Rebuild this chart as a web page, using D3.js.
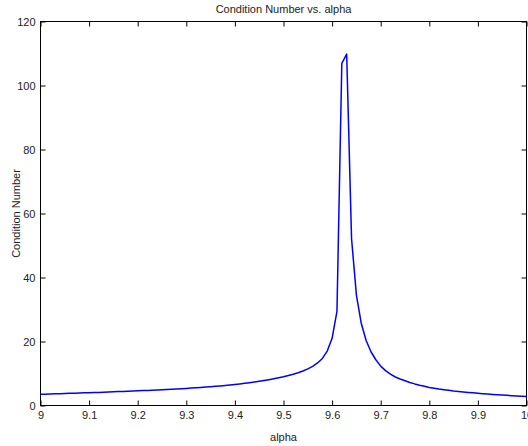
<!DOCTYPE html>
<html>
<head>
<meta charset="utf-8">
<script src="https://cdn.jsdelivr.net/npm/d3@7"></script>
<style>
  body { margin: 0; background: #fff; }
  svg { display: block; font-family: "Liberation Sans", Arial, sans-serif; }
</style>
</head>
<body>
<svg width="528" height="446"></svg>
<script>
// alpha values, 9.00 to 10.00 in steps of 0.01
const alphaValues = d3.range(0, 101).map(i => +(9 + i / 100).toFixed(2));

// condition number, one per alpha
const condValues = [
    3.50, 3.55, 3.60, 3.65, 3.70, 3.75, 3.80, 3.85, 3.90, 3.95,
    4.00, 4.05, 4.10, 4.16, 4.22, 4.28, 4.34, 4.40, 4.46, 4.52,
    4.58, 4.65, 4.72, 4.79, 4.86, 4.93, 5.01, 5.09, 5.17, 5.26,
    5.35, 5.45, 5.55, 5.65, 5.76, 5.88, 6.00, 6.13, 6.27, 6.42,
    6.58, 6.75, 6.93, 7.12, 7.33, 7.55, 7.79, 8.05, 8.33, 8.64,
    8.98, 9.36, 9.78, 10.25, 10.80, 11.45, 12.25, 13.30, 14.70, 17.00,
    21.0, 29.4, 106.9, 109.8, 52.2, 34.5, 25.7, 20.3, 16.8, 14.3,
    12.3, 10.9, 9.8, 8.9, 8.3, 7.75, 7.2, 6.75, 6.35, 6.0,
    5.65, 5.4, 5.15, 4.95, 4.75, 4.55, 4.4, 4.25, 4.1, 3.95,
    3.82, 3.7, 3.58, 3.47, 3.37, 3.27, 3.17, 3.08, 2.99, 2.9,
    2.8
];

const xTicks = [9, 9.1, 9.2, 9.3, 9.4, 9.5, 9.6, 9.7, 9.8, 9.9, 10];
const yTicks = [0, 20, 40, 60, 80, 100, 120];

const svg = d3.select("svg");
const plotLeft = 40.5, plotRight = 526.5, plotTop = 21.5, plotBottom = 405.5;

const x = d3.scaleLinear().domain([9, 10]).range([plotLeft, plotRight]);
const y = d3.scaleLinear().domain([0, 120]).range([plotBottom, plotTop]);

// box
svg.append("rect")
    .attr("x", plotLeft).attr("y", plotTop)
    .attr("width", plotRight - plotLeft).attr("height", plotBottom - plotTop)
    .attr("fill", "none").attr("stroke", "#000").attr("stroke-width", 1);

// inward ticks on all four sides, labels only bottom/left
const fmt = d => String(d);
svg.append("g").attr("transform", `translate(0,${plotBottom})`)
    .call(d3.axisBottom(x).tickValues(xTicks).tickSizeInner(-5).tickSizeOuter(0).tickPadding(6).tickFormat(fmt));
svg.append("g").attr("transform", `translate(0,${plotTop})`)
    .call(d3.axisTop(x).tickValues(xTicks).tickSizeInner(-5).tickSizeOuter(0).tickFormat(""));
svg.append("g").attr("transform", `translate(${plotLeft},0)`)
    .call(d3.axisLeft(y).tickValues(yTicks).tickSizeInner(-5).tickSizeOuter(0).tickPadding(5).tickFormat(fmt));
svg.append("g").attr("transform", `translate(${plotRight},0)`)
    .call(d3.axisRight(y).tickValues(yTicks).tickSizeInner(-5).tickSizeOuter(0).tickFormat(""));

svg.selectAll(".domain").remove();
svg.selectAll(".tick line").attr("stroke", "#000");
svg.selectAll(".tick text")
    .attr("font-family", "'Liberation Sans', Arial, sans-serif")
    .attr("font-size", 11).attr("fill", "#222");

// the curve
const data = alphaValues.map((a, i) => ({ a: a, c: condValues[i] }));
svg.append("path")
    .datum(data)
    .attr("fill", "none")
    .attr("stroke", "#0000ff")
    .attr("stroke-width", 1.5)
    .attr("stroke-linejoin", "round")
    .attr("d", d3.line().x(d => x(d.a)).y(d => y(d.c)));

// title and axis labels
svg.append("text")
    .attr("x", (plotLeft + plotRight) / 2).attr("y", 13)
    .attr("text-anchor", "middle").attr("font-size", 11).attr("fill", "#222")
    .text("Condition Number vs. alpha");

svg.append("text")
    .attr("x", (plotLeft + plotRight) / 2).attr("y", 441)
    .attr("text-anchor", "middle").attr("font-size", 11).attr("fill", "#222")
    .text("alpha");

svg.append("text")
    .attr("transform", `translate(20,${(plotTop + plotBottom) / 2}) rotate(-90)`)
    .attr("text-anchor", "middle").attr("font-size", 11).attr("fill", "#222")
    .text("Condition Number");
</script>
</body>
</html>
